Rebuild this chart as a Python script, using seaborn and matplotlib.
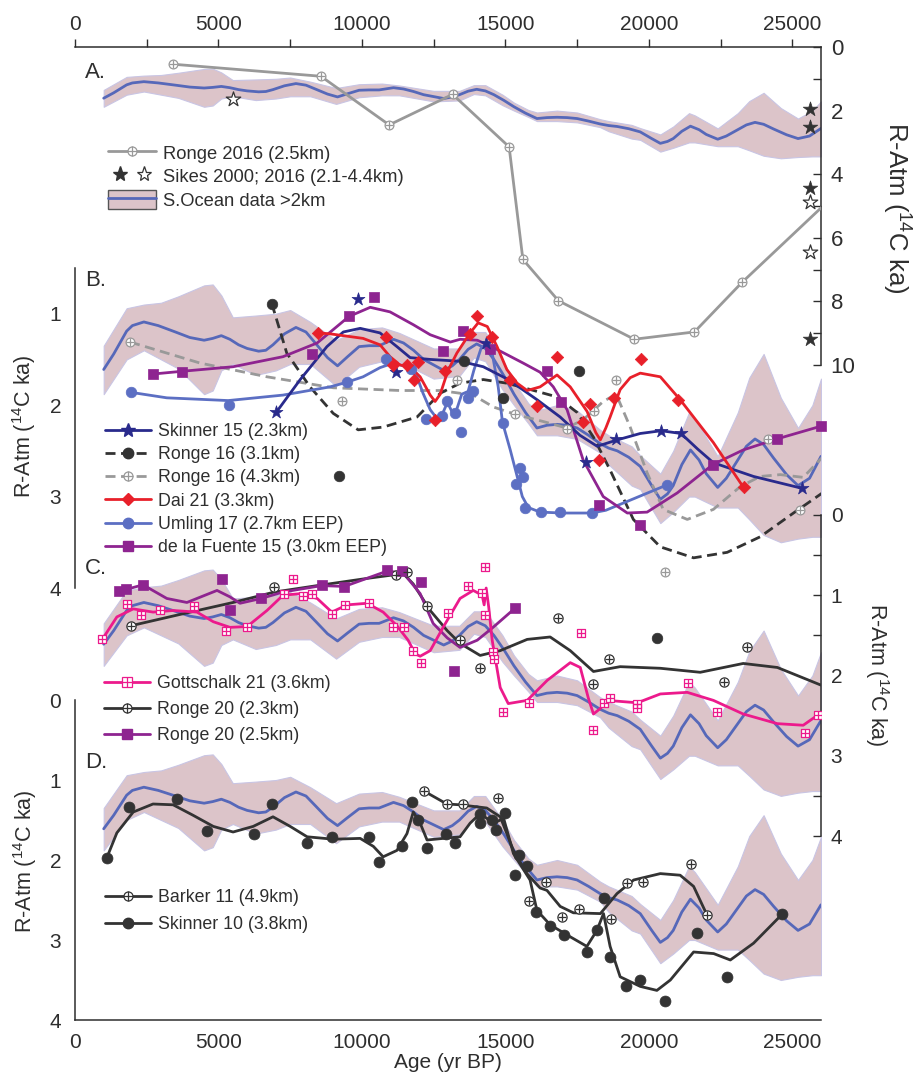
import numpy as np
import matplotlib
matplotlib.use("Agg")
import matplotlib.pyplot as plt
import seaborn as sns
from matplotlib.lines import Line2D
from matplotlib.patches import Patch
from matplotlib.legend_handler import HandlerTuple

sns.set_style("white")
plt.rcParams["font.family"] = ["Liberation Sans", "DejaVu Sans"]
plt.rcParams["mathtext.fontset"] = "custom"
plt.rcParams["mathtext.rm"] = "Liberation Sans"
plt.rcParams["mathtext.it"] = "Liberation Sans:italic"

# --------------------------
# 1. DATA (age in yr BP, R-Atm in 14C ka)
# --------------------------
# Southern Ocean stack >2km (same in every panel)
so_age = [1000, 1350, 1800, 2000, 2400, 2900, 3500, 4000, 4500, 4800, 5100, 5400, 5700, 6000,
          6400, 6650, 6900, 7300, 7700, 8050, 8400, 8800, 9150, 9500, 9900, 10250, 10600,
          11100, 11450, 11800, 12150, 12500, 12850, 13150, 13400, 13700, 14000, 14300, 14600,
          14950, 15300, 15700, 16100, 16450, 16800, 17150, 17500, 17900, 18300, 18600, 18900,
          19300, 19700, 20100, 20400, 20650, 20850, 21150, 21450, 21750, 22000, 22400, 22700,
          23100, 23400, 23700, 24000, 24350, 24800, 25200, 25600, 26000]
so_mid = [1.61, 1.44, 1.19, 1.13, 1.09, 1.13, 1.20, 1.26, 1.29, 1.27, 1.24, 1.28, 1.34, 1.38,
          1.41, 1.40, 1.34, 1.22, 1.15, 1.20, 1.33, 1.48, 1.57, 1.47, 1.36, 1.35, 1.35,
          1.28, 1.32, 1.40, 1.50, 1.56, 1.62, 1.57, 1.50, 1.39, 1.33, 1.38, 1.50,
          1.68, 1.88, 2.08, 2.25, 2.22, 2.21, 2.22, 2.25, 2.33, 2.42, 2.47, 2.50,
          2.57, 2.67, 2.88, 3.03, 2.97, 2.88, 2.65, 2.49, 2.60, 2.75, 2.90, 2.80,
          2.60, 2.45, 2.37, 2.43, 2.58, 2.76, 2.88, 2.80, 2.56]
so_band_age = [1000, 1800, 2400, 3000, 3600, 4500, 4800, 5100, 5500, 6300, 7000, 7500, 8200, 9100,
               9900, 10700, 11300, 12500, 13400, 13900, 14300, 14900, 15300, 15800, 16100, 16800,
               17500, 18300, 18600, 19400, 19700, 20400, 20850, 21400, 21600, 22400, 23100, 23500,
               24000, 24600, 25200, 25700, 26000]
so_band_top = [1.35, 0.94, 0.90, 0.88, 0.81, 0.69, 0.68, 0.80, 1.04, 1.02, 1.00, 0.96, 1.09, 1.29,
               1.17, 1.15, 1.21, 1.38, 1.38, 1.20, 1.20, 1.50, 1.75, 1.98, 2.06, 2.00,
               2.06, 2.27, 2.33, 2.45, 2.55, 2.75, 2.50, 2.08, 2.15, 2.56, 2.08, 1.70,
               1.44, 1.92, 2.25, 2.00, 1.71]
so_band_bot = [1.88, 1.50, 1.40, 1.50, 1.60, 1.88, 1.84, 1.62, 1.55, 1.67, 1.62, 1.55, 1.55, 1.79,
               1.58, 1.52, 1.52, 1.71, 1.68, 1.48, 1.52, 1.83, 2.00, 2.20, 2.33, 2.33,
               2.37, 2.52, 2.65, 2.88, 2.92, 3.29, 3.17, 3.00, 3.00, 3.12, 3.12, 3.25,
               3.42, 3.50, 3.46, 3.44, 3.44]

# Panel A
a_ronge_age = [3400, 8570, 10950, 13160, 15130, 15610, 16850, 19490, 21590, 23250, 27000]
a_ronge_val = [0.54, 0.92, 2.45, 1.49, 3.14, 6.68, 7.98, 9.19, 8.96, 7.40, 4.21]
a_sikes_full_age = [25620, 25620, 25620, 25620]
a_sikes_full_val = [1.95, 2.50, 4.42, 9.19]
a_sikes_open_age = [5500, 25620, 25620]
a_sikes_open_val = [1.62, 4.86, 6.46]

# Panel B
b_sk15_age = [7010, 9870, 11200, 14330, 17820, 18850, 20430, 21120, 25340]
b_sk15_val = [2.08, 0.84, 1.64, 1.32, 2.62, 2.37, 2.28, 2.31, 2.91]
b_sk15_fit_age = [7010, 7850, 8780, 9350, 9940, 10630, 11220, 11680, 12380, 13420, 14230, 15100,
                  16100, 16910, 17600, 18200, 18900, 19700, 20430, 21120, 21700, 22250, 23650, 25340]
b_sk15_fit_val = [2.08, 1.72, 1.36, 1.20, 1.16, 1.21, 1.36, 1.48, 1.50, 1.52, 1.58, 1.72,
                  1.94, 2.13, 2.33, 2.45, 2.38, 2.31, 2.28, 2.31, 2.48, 2.63, 2.78, 2.91]

b_r31_age = [6860, 9210, 13560, 14930, 17570]
b_r31_val = [0.89, 2.77, 1.52, 1.92, 1.63]
b_r31_fit_age = [6860, 7380, 8190, 9000, 9870, 10740, 11920, 12730, 13420, 14230, 15050, 15760,
                 16800, 17500, 18070, 18650, 19460, 20400, 21560, 22730, 23880, 25040, 26050]
b_r31_fit_val = [0.89, 1.43, 1.80, 2.09, 2.27, 2.24, 2.13, 1.87, 1.76, 1.72, 1.76, 1.82,
                 1.91, 2.08, 2.35, 2.71, 3.25, 3.55, 3.67, 3.61, 3.44, 3.18, 2.96]

b_r43_age = [1920, 9300, 13310, 15340, 17140, 18100, 18860, 20570, 24160, 25280]
b_r43_val = [1.31, 1.96, 1.72, 2.10, 2.26, 2.06, 1.72, 3.82, 2.37, 3.15]
b_r43_fit_age = [1920, 4360, 6690, 9000, 11330, 12730, 13880, 14580, 15340, 16330, 17140, 17710,
                 18410, 18860, 19350, 19940, 20500, 21340, 22250, 23190, 23880, 24580, 25380, 26050]
b_r43_fit_val = [1.31, 1.54, 1.69, 1.81, 1.84, 1.84, 1.89, 2.02, 2.10, 2.18, 2.25, 2.16,
                 1.96, 1.88, 2.24, 2.74, 3.14, 3.25, 3.14, 2.89, 2.78, 2.76, 2.79, 2.57]

b_dai_age = [8480, 10840, 11100, 11570, 11830, 11970, 12550, 12900, 13770, 14000, 14550, 15170,
             16100, 16800, 17700, 17960, 18260, 18770, 19740, 21010, 23300]
b_dai_val = [1.21, 1.26, 1.56, 1.56, 1.72, 1.53, 2.16, 1.63, 1.22, 1.03, 1.25, 1.72,
             2.01, 1.47, 2.18, 1.99, 2.60, 1.92, 1.50, 1.94, 2.90]
b_dai_fit_age = [8480, 8890, 10040, 10630, 10980, 11330, 11680, 12030, 12380, 12550, 12730, 13000,
                 13310, 13770, 14050, 14370, 14710, 15050, 15410, 15760, 16210, 16800, 17260,
                 17850, 18150, 18310, 18500, 18650, 19000, 19350, 19700, 20400, 21090, 22250, 23300]
b_dai_fit_val = [1.21, 1.22, 1.27, 1.34, 1.47, 1.56, 1.58, 1.69, 1.89, 1.96, 1.88, 1.62,
                 1.43, 1.21, 1.10, 1.14, 1.36, 1.61, 1.76, 1.84, 1.80, 1.67, 1.80,
                 2.07, 2.30, 2.38, 2.25, 2.13, 1.83, 1.70, 1.65, 1.69, 1.94, 2.41, 2.90]

b_uml_age = [1950, 5350, 9470, 10840, 11720, 12240, 12780, 12960, 13250, 13460, 13700, 13880,
             14900, 15380, 15520, 15600, 15690, 16250, 16890, 18010, 20650]
b_uml_val = [1.86, 2.00, 1.75, 1.49, 1.61, 2.15, 2.12, 1.96, 2.09, 2.29, 1.92, 1.84,
             2.20, 2.86, 2.69, 2.79, 3.12, 3.17, 3.17, 3.18, 2.87]
b_uml_fit_age = [1950, 3200, 5340, 7250, 8890, 9470, 10040, 10630, 11090, 11570, 11920, 12130,
                 12380, 12600, 12800, 12980, 13150, 13300, 13480, 13700, 13900, 14150, 14350,
                 14550, 14750, 14900, 15170, 15410, 15590, 15800, 16210, 17000, 18000, 18500,
                 19500, 20650]
b_uml_fit_val = [1.86, 1.92, 1.95, 1.89, 1.80, 1.75, 1.69, 1.59, 1.54, 1.58, 1.69, 1.87,
                 2.05, 2.14, 2.10, 1.97, 2.08, 2.05, 1.88, 1.85, 1.62, 1.38, 1.32,
                 1.45, 1.80, 2.19, 2.49, 2.78, 3.00, 3.12, 3.17, 3.18, 3.18, 3.15,
                 3.02, 2.87]

b_dlf_age = [2710, 3720, 8250, 9550, 10420, 12840, 13540, 14470, 16440, 16930, 18280, 19680,
             22230, 24460, 26000]
b_dlf_val = [1.66, 1.64, 1.44, 1.03, 0.82, 1.41, 1.19, 1.39, 1.63, 1.97, 3.09, 3.31,
             2.65, 2.37, 2.23]
b_dlf_fit_age = [2710, 3720, 5510, 7250, 8440, 9550, 10290, 10980, 11790, 12380, 13080, 13420,
                 14020, 14580, 15620, 16210, 16670, 17150, 17710, 18410, 19250, 19940, 20990,
                 22230, 23290, 24460, 26000]
b_dlf_fit_val = [1.66, 1.63, 1.58, 1.47, 1.32, 1.03, 0.93, 0.98, 1.12, 1.23, 1.31, 1.28,
                 1.29, 1.37, 1.54, 1.64, 1.80, 2.05, 2.60, 3.00, 3.18, 3.17, 2.96,
                 2.65, 2.49, 2.37, 2.23]

# Panel C
c_got_age = [950, 1800, 2300, 2960, 4150, 5260, 6010, 7300, 7610, 7940, 8250, 8950, 9410, 10230,
             11100, 11470, 11770, 12060, 12990, 13680, 14180, 14300, 14300, 14560, 14590, 14910,
             15810, 17640, 18040, 18440, 18650, 19580, 19580, 21360, 22370, 25450, 25900]
c_got_val = [1.55, 1.11, 1.25, 1.19, 1.14, 1.44, 1.40, 0.99, 0.80, 1.01, 0.99, 1.23, 1.12, 1.10,
             1.39, 1.39, 1.69, 1.85, 1.22, 0.89, 0.97, 0.65, 1.25, 1.71, 1.80, 2.46,
             2.34, 1.47, 2.68, 2.34, 2.28, 2.36, 2.40, 2.09, 2.45, 2.72, 2.49]
c_got_fit_age = [950, 1460, 2030, 2720, 3420, 4250, 4820, 5400, 6000, 6690, 7250, 7850, 8440,
                 8950, 9480, 10180, 10740, 11220, 11610, 11860, 12030, 12380, 12830, 13420,
                 13880, 14190, 14260, 14330, 14420, 14540, 14820, 15100, 15760, 16460, 17260,
                 17610, 17890, 18070, 18310, 18550, 19600, 20400, 21340, 22250, 23290, 24480,
                 25380, 25900]
c_got_fit_val = [1.55, 1.27, 1.17, 1.21, 1.19, 1.21, 1.33, 1.40, 1.39, 1.19, 1.00, 0.98, 1.04,
                 1.21, 1.12, 1.10, 1.21, 1.38, 1.56, 1.73, 1.76, 1.69, 1.40, 1.04,
                 0.94, 1.00, 1.12, 0.91, 1.15, 1.56, 2.15, 2.35, 2.31, 2.06, 1.84,
                 1.90, 2.28, 2.48, 2.41, 2.31, 2.34, 2.23, 2.21, 2.31, 2.48, 2.60,
                 2.62, 2.49]

c_r23_age = [1950, 6950, 11180, 11560, 12260, 13420, 14120, 16850, 18070, 18600, 22610, 23420]
c_r23_val = [1.38, 0.90, 0.75, 0.71, 1.14, 1.56, 1.91, 1.28, 2.11, 1.79, 2.08, 1.64]
c_r23_fit_age = [1950, 3770, 5510, 6950, 8440, 10180, 11440, 11790, 12380, 12970, 13420, 14120,
                 14820, 15760, 16560, 17260, 18070, 19000, 20400, 21790, 23290, 24480, 26000]
c_r23_fit_val = [1.38, 1.23, 1.09, 0.96, 0.88, 0.79, 0.73, 0.86, 1.19, 1.44, 1.60, 1.75,
                 1.69, 1.55, 1.52, 1.69, 1.95, 1.89, 1.91, 1.96, 1.85, 1.90, 2.12]
c_dot_age = [20280]
c_dot_val = [1.53]

c_r25_age = [1550, 1780, 2360, 5110, 5400, 6490, 8600, 9390, 10870, 11390, 12050, 13210, 15340]
c_r25_val = [0.95, 0.92, 0.87, 0.80, 1.19, 1.04, 0.87, 0.90, 0.68, 0.70, 0.83, 1.95, 1.16]
c_r25_fit_age = [1550, 2370, 3200, 3900, 4950, 5400, 5750, 6490, 7250, 8600, 9390, 10870, 11440,
                 12030, 12480, 12970, 13420, 14020, 14570, 15340]
c_r25_fit_val = [0.95, 0.87, 1.04, 1.09, 0.94, 1.02, 1.10, 1.04, 0.96, 0.88, 0.89, 0.70, 0.72,
                 0.98, 1.35, 1.53, 1.65, 1.56, 1.40, 1.16]

# Panel D
d_sk10_age = [1100, 1890, 3550, 4590, 6250, 6880, 8100, 8950, 10250, 10580, 11390, 11760, 11970,
              12260, 12930, 13250, 14120, 14120, 14530, 14680, 14970, 15320, 15490, 15750,
              16070, 16560, 17060, 17840, 18210, 18450, 18630, 19210, 19700, 20550, 21680,
              22720, 24640]
d_sk10_val = [1.98, 1.34, 1.24, 1.64, 1.68, 1.30, 1.79, 1.71, 1.71, 2.03, 1.83, 1.28, 1.50,
              1.85, 1.67, 1.79, 1.42, 1.54, 1.50, 1.62, 1.41, 2.19, 1.94, 2.08,
              2.65, 2.83, 2.94, 3.15, 2.88, 2.47, 3.21, 3.58, 3.50, 3.76, 2.91,
              3.46, 2.68]
d_sk10_fit_age = [1100, 1460, 2030, 2720, 3420, 4110, 4820, 5510, 6210, 6900, 7500, 8090, 9000,
                  9940, 10400, 10740, 11220, 11570, 11790, 12030, 12270, 12830, 13420, 13770,
                  14120, 14590, 14940, 15280, 15860, 16100, 16560, 17260, 17840, 18190, 18420,
                  18650, 19000, 19700, 20280, 20750, 21560, 22260, 22840, 23650, 24640]
d_sk10_fit_val = [1.98, 1.66, 1.40, 1.30, 1.31, 1.44, 1.58, 1.65, 1.58, 1.46, 1.58, 1.71, 1.74,
                  1.73, 1.83, 1.96, 1.88, 1.67, 1.40, 1.54, 1.75, 1.73, 1.71, 1.54,
                  1.42, 1.54, 1.48, 1.92, 2.25, 2.63, 2.81, 2.96, 3.08, 2.88, 2.67,
                  3.08, 3.46, 3.58, 3.63, 3.50, 3.15, 3.17, 3.25, 3.04, 2.68]

d_bar_age = [12170, 12960, 13540, 14740, 15840, 16420, 16990, 17550, 18680, 19230, 19790, 21480, 22030]
d_bar_val = [1.14, 1.30, 1.30, 1.23, 2.51, 2.27, 2.71, 2.61, 2.74, 2.29, 2.28, 2.05, 2.69]
d_bar_fit_age = [12170, 12960, 13420, 14350, 14820, 15280, 15750, 16210, 16450, 16910, 17370,
                 18310, 18890, 19470, 20400, 21090, 21560, 22030]
d_bar_fit_val = [1.14, 1.30, 1.31, 1.35, 1.46, 1.88, 2.17, 2.35, 2.38, 2.58, 2.66,
                 2.67, 2.42, 2.25, 2.17, 2.19, 2.33, 2.69]

x_ticks = list(range(0, 26001, 2500))

# colours
INK = "#2e2e2e"
SO_LINE = "#5668b9"
SO_BAND = "#dcc4c9"
SO_EDGE = "#c9c5e4"
GREY = "#999999"
NAVY = "#292a8c"
RED = "#e8202a"
UML = "#5c6fc3"
PURPLE = "#8e2490"
PINK = "#ec1a8c"

# --------------------------
# 2. FIGURE / AXES
# --------------------------
W, H = 914, 1077
fig = plt.figure(figsize=(W / 100, H / 100), dpi=100)


def panel(top, bottom):
    ax = fig.add_axes([75 / W, 1 - bottom / H, 746 / W, (bottom - top) / H])
    ax.patch.set_visible(False)
    for s in ax.spines.values():
        s.set_visible(False)
        s.set_color(INK)
        s.set_linewidth(1.1)
    return ax


axA = panel(47, 365)
axB = panel(268, 588)
axC = panel(515, 836)
axD = panel(700, 1020)


def southern_ocean(ax):
    ax.fill_between(so_band_age, so_band_top, so_band_bot, color=SO_BAND,
                    edgecolor=SO_EDGE, linewidth=0.8, zorder=1)
    sns.lineplot(x=so_age, y=so_mid, ax=ax, color=SO_LINE, lw=2.0,
                 estimator=None, sort=False, zorder=2)


def curve(ax, x, y, color, ls="-", lw=2.0, z=3):
    sns.lineplot(x=x, y=y, ax=ax, color=color, lw=lw, linestyle=ls,
                 estimator=None, sort=False, zorder=z)


def marks(ax, x, y, kind, color, s=36, clip=True, z=5):
    if kind in ("oplus", "splus"):
        m = "o" if kind == "oplus" else "s"
        sns.scatterplot(x=x, y=y, ax=ax, marker=m, s=s, color="white", edgecolor=color,
                        linewidth=0.9, zorder=z, clip_on=clip, legend=False)
        ax.scatter(x, y, marker="+", s=s * 0.95, color=color, linewidths=0.9,
                   zorder=z + 0.1, clip_on=clip)
    elif kind == "openstar":
        sns.scatterplot(x=x, y=y, ax=ax, marker="*", s=s, color="white", edgecolor=color,
                        linewidth=0.9, zorder=z, clip_on=clip, legend=False)
    else:
        sns.scatterplot(x=x, y=y, ax=ax, marker=kind, s=s, color=color, edgecolor=color,
                        linewidth=0.5, zorder=z, clip_on=clip, legend=False)


DASH = (0, (3.6, 2.0))

# ----- A -----
southern_ocean(axA)
curve(axA, a_ronge_age, a_ronge_val, GREY, lw=2.0)
marks(axA, a_ronge_age, a_ronge_val, "oplus", GREY, s=40)
marks(axA, a_sikes_full_age, a_sikes_full_val, "*", "#333333", s=120, clip=False)
marks(axA, a_sikes_open_age, a_sikes_open_val, "openstar", "#333333", s=120, clip=False)

# ----- B -----
southern_ocean(axB)
curve(axB, b_r43_fit_age, b_r43_fit_val, GREY, ls=DASH)
curve(axB, b_r31_fit_age, b_r31_fit_val, "#333333", ls=DASH)
curve(axB, b_uml_fit_age, b_uml_fit_val, UML)
curve(axB, b_dlf_fit_age, b_dlf_fit_val, PURPLE)
curve(axB, b_sk15_fit_age, b_sk15_fit_val, NAVY)
curve(axB, b_dai_fit_age, b_dai_fit_val, RED)
marks(axB, b_r43_age, b_r43_val, "oplus", GREY, s=40, clip=False)
marks(axB, b_r31_age, b_r31_val, "o", "#333333", s=58, clip=False)
marks(axB, b_uml_age, b_uml_val, "o", UML, s=58, clip=False)
marks(axB, b_dlf_age, b_dlf_val, "s", PURPLE, s=52, clip=False)
marks(axB, b_sk15_age, b_sk15_val, "*", NAVY, s=95, clip=False)
marks(axB, b_dai_age, b_dai_val, "D", RED, s=40, clip=False)

# ----- C -----
southern_ocean(axC)
curve(axC, c_r23_fit_age, c_r23_fit_val, "#333333")
curve(axC, c_r25_fit_age, c_r25_fit_val, PURPLE)
curve(axC, c_got_fit_age, c_got_fit_val, PINK)
marks(axC, c_r23_age, c_r23_val, "oplus", "#333333", s=44)
marks(axC, c_dot_age, c_dot_val, "o", "#333333", s=58)
marks(axC, c_r25_age, c_r25_val, "s", PURPLE, s=52)
marks(axC, c_got_age, c_got_val, "splus", PINK, s=40)

# ----- D -----
southern_ocean(axD)
curve(axD, d_bar_fit_age, d_bar_fit_val, "#333333")
curve(axD, d_sk10_fit_age, d_sk10_fit_val, "#333333")
marks(axD, d_bar_age, d_bar_val, "oplus", "#333333", s=44)
marks(axD, d_sk10_age, d_sk10_val, "o", "#333333", s=62)

# --------------------------
# 3. AXES STYLE
# --------------------------
for ax in (axA, axB, axC, axD):
    ax.set_xlim(0, 26000)
    ax.set_xlabel("")
    ax.set_ylabel("")
    ax.tick_params(colors=INK, width=1.0, length=6, labelsize=15)

axA.set_ylim(10, 0)
axA.spines["top"].set_visible(True)
axA.spines["right"].set_visible(True)
axA.xaxis.tick_top()
axA.set_xticks(x_ticks)
axA.set_xticklabels([str(t) if t % 5000 == 0 else "" for t in x_ticks])
axA.yaxis.tick_right()
axA.set_yticks(range(0, 11))
axA.set_yticklabels([str(t) if t % 2 == 0 else "" for t in range(0, 11)])
axA.tick_params(axis="x", direction="out", pad=3)
axA.tick_params(axis="y", direction="in", pad=7, labelsize=16)

axB.set_ylim(4, 0.5)
axB.spines["left"].set_visible(True)
b_ticks = np.arange(0.5, 4.01, 0.5)
axB.set_yticks(b_ticks)
axB.set_yticklabels([str(int(t)) if t == int(t) else "" for t in b_ticks])
axB.tick_params(axis="y", direction="out", pad=4)
axB.tick_params(axis="x", which="both", bottom=False, top=False, labelbottom=False)

axC.set_ylim(4, 0)
axC.spines["right"].set_visible(True)
c_ticks = np.arange(0, 4.01, 0.5)
axC.yaxis.tick_right()
axC.set_yticks(c_ticks)
axC.set_yticklabels([str(int(t)) if t == int(t) else "" for t in c_ticks])
axC.tick_params(axis="y", direction="in", pad=7)
axC.tick_params(axis="x", which="both", bottom=False, top=False, labelbottom=False)

axD.set_ylim(4, 0)
axD.spines["left"].set_visible(True)
axD.spines["bottom"].set_visible(True)
axD.set_yticks(c_ticks)
axD.set_yticklabels([str(int(t)) if t == int(t) else "" for t in c_ticks])
axD.tick_params(axis="y", direction="out", pad=4)
axD.set_xticks(x_ticks)
axD.set_xticklabels([str(t) if t % 5000 == 0 else "" for t in x_ticks])
axD.tick_params(axis="x", direction="in", pad=9)

# --------------------------
# 4. TEXT
# --------------------------
ylab = r"R-Atm ($\mathrm{^{14}}$C ka)"
fig.text(896 / W, 1 - 208 / H, ylab, rotation=270, ha="center", va="center", fontsize=18.5, color=INK)
fig.text(24 / W, 1 - 426 / H, ylab, rotation=90, ha="center", va="center", fontsize=15.5, color=INK)
fig.text(877 / W, 1 - 675 / H, ylab, rotation=270, ha="center", va="center", fontsize=15.5, color=INK)
fig.text(25 / W, 1 - 861 / H, ylab, rotation=90, ha="center", va="center", fontsize=15.5, color=INK)
fig.text(448 / W, 1 - 1062 / H, "Age (yr BP)", ha="center", va="center", fontsize=15, color=INK)
for lab, y in (("A.", 72), ("B.", 280), ("C.", 569), ("D.", 763)):
    fig.text(85 / W, 1 - y / H, lab, ha="left", va="center", fontsize=16, color=INK)

# --------------------------
# 5. LEGENDS
# --------------------------


def oplus(color, ls="-", m="o"):
    return (Line2D([], [], color=color, lw=2, ls=ls, marker=m, ms=6.5, mfc="white", mec=color, mew=0.9),
            Line2D([], [], ls="none", marker="+", ms=6.5, color=color, mew=0.9))


def legend(ax, handles, labels, x, y, spacing, hmap=None, hh=0.7, fs=12.8):
    hm = {tuple: HandlerTuple(ndivide=1, pad=0)}
    if hmap:
        hm.update(hmap)
    leg = ax.legend(handles, labels, loc="upper left", bbox_to_anchor=(x / W, 1 - y / H),
                    bbox_transform=fig.transFigure, frameon=False, fontsize=fs,
                    handlelength=2.6, handletextpad=0.4, labelspacing=spacing,
                    borderaxespad=0, borderpad=0, numpoints=1, handler_map=hm,
                    handleheight=hh)
    for t in leg.get_texts():
        t.set_color(INK)
    return leg


sikes = (Line2D([], [], ls="none", marker="*", ms=11, color="#333333"),
         Line2D([], [], ls="none", marker="*", ms=11, mfc="white", mec="#333333", mew=0.9))
so_h = (Patch(facecolor=SO_BAND, edgecolor="#555555", linewidth=1.0),
        Line2D([], [], color=SO_LINE, lw=2))
legend(axA, [oplus(GREY), sikes, so_h],
       ["Ronge 2016 (2.5km)", "Sikes 2000; 2016 (2.1-4.4km)", "S.Ocean data >2km"],
       108, 143, 0.2, hmap={sikes: HandlerTuple(ndivide=None, pad=0)}, hh=1.25, fs=13.2)

legend(axB,
       [Line2D([], [], color=NAVY, lw=2, marker="*", ms=10),
        Line2D([], [], color="#333333", lw=2, ls=DASH, marker="o", ms=7.5),
        oplus(GREY, ls=DASH),
        Line2D([], [], color=RED, lw=2, marker="D", ms=6),
        Line2D([], [], color=UML, lw=2, marker="o", ms=7.5),
        Line2D([], [], color=PURPLE, lw=2, marker="s", ms=7)],
       ["Skinner 15 (2.3km)", "Ronge 16 (3.1km)", "Ronge 16 (4.3km)", "Dai 21 (3.3km)",
        "Umling 17 (2.7km EEP)", "de la Fuente 15 (3.0km EEP)"],
       105, 423, 0.35)

legend(axC,
       [oplus(PINK, m="s"), oplus("#333333"),
        Line2D([], [], color=PURPLE, lw=2, marker="s", ms=7)],
       ["Gottschalk 21 (3.6km)", "Ronge 20 (2.3km)", "Ronge 20 (2.5km)"],
       104, 675, 0.5)

legend(axD,
       [oplus("#333333"), Line2D([], [], color="#333333", lw=2, marker="o", ms=7.5)],
       ["Barker 11 (4.9km)", "Skinner 10 (3.8km)"],
       105, 889, 0.55)

fig.savefig("out.png", dpi=100)
